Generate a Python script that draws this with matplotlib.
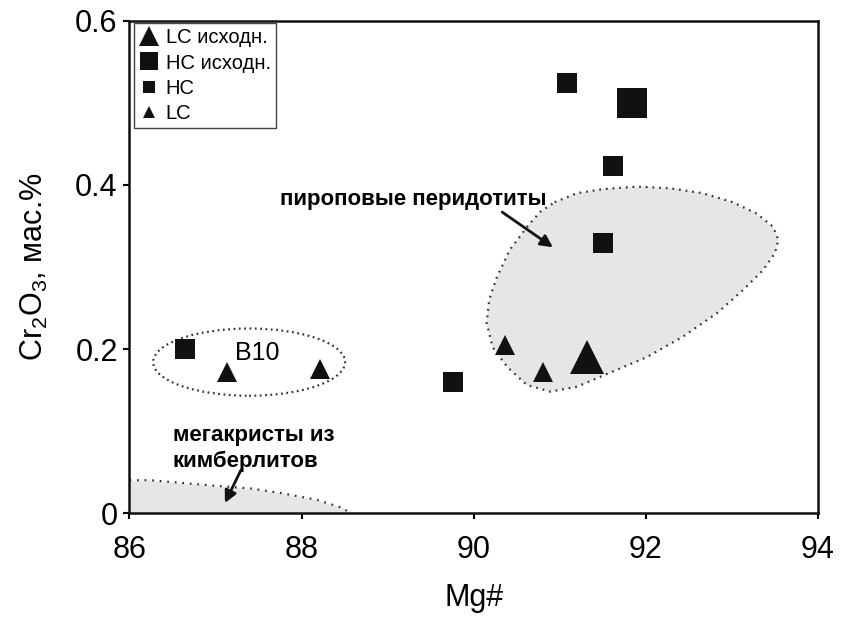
import matplotlib
matplotlib.use("Agg")
import matplotlib.pyplot as plt
from matplotlib.patches import Polygon, Ellipse

plt.rcParams['font.family'] = ['Liberation Sans', 'DejaVu Sans']
plt.rcParams['mathtext.default'] = 'regular'

# ---- data ----
hc_x = [86.65, 89.76, 91.08, 91.62, 91.50]
hc_y = [0.200, 0.160, 0.524, 0.423, 0.329]
hc0_x = [91.84]
hc0_y = [0.500]
lc_x = [87.13, 88.21, 90.36, 90.81]
lc_y = [0.172, 0.176, 0.205, 0.172]
lc0_x = [91.32]
lc0_y = [0.190]

# outline of the pyrope peridotite field
per_x = [90.94, 91.20, 91.50, 91.90, 92.28, 92.66, 93.01, 93.29, 93.48, 93.54,
         93.50, 93.36, 93.13, 92.83, 92.43, 92.01, 91.58, 91.20, 90.89, 90.62,
         90.39, 90.22, 90.15, 90.18, 90.27, 90.42, 90.62, 90.77]
per_y = [0.379, 0.390, 0.395, 0.398, 0.396, 0.390, 0.379, 0.365, 0.349, 0.333,
         0.317, 0.296, 0.272, 0.244, 0.215, 0.190, 0.171, 0.154, 0.148, 0.156,
         0.178, 0.202, 0.232, 0.260, 0.288, 0.321, 0.349, 0.367]

# upper boundary of the megacryst field
meg_x = [86.0, 86.24, 87.02, 87.40, 87.78, 88.18, 88.48, 88.56]
meg_y = [0.040, 0.040, 0.033, 0.030, 0.024, 0.016, 0.006, 0.0]

xticks = [86, 88, 90, 92, 94]
yticks = [0, 0.2, 0.4, 0.6]
ytick_labels = ['0', '0.2', '0.4', '0.6']

fig = plt.figure(figsize=(8.43, 6.21), dpi=100)
ax = fig.add_axes([0.1536, 0.1739, 0.8167, 0.7923])
ax.set_xlim(86, 94)
ax.set_ylim(0, 0.6)

fill_c = '#e6e6e6'
dot_c = '#333333'
mk_c = '#111111'

# peridotite field
poly = Polygon(list(zip(per_x, per_y)), closed=True, facecolor=fill_c,
               edgecolor=dot_c, linewidth=1.6, linestyle=(0, (0.8, 2.2)), zorder=1)
ax.add_patch(poly)

# megacryst field
ax.fill_between(meg_x, meg_y, 0, color=fill_c, linewidth=0, zorder=1)
ax.plot(meg_x, meg_y, color=dot_c, linewidth=1.6, linestyle=(0, (0.8, 2.6)), zorder=2)

# B10 ellipse
ell = Ellipse((87.39, 0.184), 2.23, 0.082, facecolor='none', edgecolor=dot_c,
              linewidth=1.6, linestyle=(0, (0.8, 1.6)), zorder=2)
ax.add_patch(ell)

# points
ax.plot(lc0_x, lc0_y, '^', color=mk_c, ms=24, mew=0, linestyle='none', zorder=3, label='LC исходн.')
ax.plot(hc0_x, hc0_y, 's', color=mk_c, ms=21.6, mew=0, linestyle='none', zorder=3, label='HC исходн.')
ax.plot(hc_x, hc_y, 's', color=mk_c, ms=14.4, mew=0, linestyle='none', zorder=3, label='HC')
ax.plot(lc_x, lc_y, '^', color=mk_c, ms=15, mew=0, linestyle='none', zorder=3, label='LC')

# texts
ax.text(87.75, 0.3756, 'пироповые перидотиты', fontsize=16, fontweight='bold',
        ha='left', va='baseline', zorder=4)
ax.annotate('', xy=(90.92, 0.324), xytext=(90.33, 0.367),
            arrowprops=dict(arrowstyle='-|>', color='#111111', lw=2,
                            mutation_scale=18, shrinkA=0, shrinkB=0), zorder=4)
ax.text(86.505, 0.107, 'мегакристы из\nкимберлитов', fontsize=16, fontweight='bold',
        ha='left', va='top', linespacing=1.3, zorder=4)
ax.annotate('', xy=(87.109, 0.0122), xytext=(87.295, 0.0524),
            arrowprops=dict(arrowstyle='-|>', color='#111111', lw=2,
                            mutation_scale=18, shrinkA=0, shrinkB=0), zorder=4)
ax.text(87.226, 0.1866, 'B10', fontsize=18, ha='left', va='baseline', zorder=4)

# axes styling
ax.set_xticks(xticks)
ax.set_yticks(yticks)
ax.set_yticklabels(ytick_labels)
ax.tick_params(direction='out', length=4.5, width=1.5, labelsize=22, pad=4)
ax.tick_params(axis='x', pad=11)
for s in ax.spines.values():
    s.set_linewidth(1.8)
    s.set_color('#111111')
ax.set_xlabel('Mg#', fontsize=22, labelpad=13)
ax.set_ylabel(r'Cr$_{2}$O$_{3}$, мас.%', fontsize=22, labelpad=18)

leg = ax.legend(loc='upper left', bbox_to_anchor=(0.007, 0.995), borderaxespad=0,
                fontsize=14.5, markerscale=0.62, frameon=True, fancybox=False,
                edgecolor='#444444', framealpha=1, borderpad=0.25, labelspacing=0.3,
                handlelength=1.0, handletextpad=0.3, numpoints=1)
leg.get_frame().set_linewidth(1.0)

fig.savefig('out.png', dpi=100)
